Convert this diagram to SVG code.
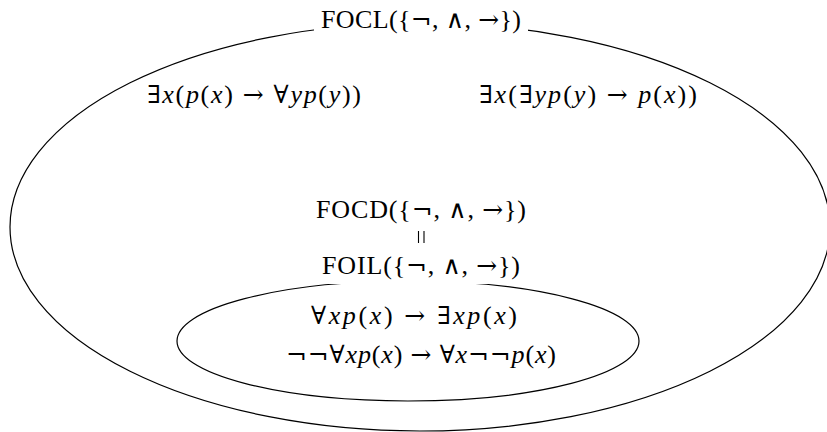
<svg xmlns="http://www.w3.org/2000/svg" width="827" height="432" viewBox="0 0 827 432">
<style>
.set{fill:none;stroke:#000;stroke-width:1.2}
.bg{fill:#fff}
text{font-family:"Liberation Serif","DejaVu Serif",serif;font-size:26px;fill:#000;text-anchor:middle}
.i{font-style:italic}
.s{font-family:"DejaVu Serif",serif;font-size:25px}
</style>
<rect width="827" height="432" fill="#fff"/>
<g id="focl">
<ellipse class="set" cx="420" cy="227" rx="410" ry="204"/>
<rect class="bg" x="314" y="8" width="214" height="30"/>
<text x="421" y="28" textLength="200">FOCL({<tspan class="s">¬</tspan>, <tspan class="s">∧</tspan>, <tspan class="s">→</tspan>})</text>
</g>
<g id="formula1">
<text x="254" y="103" textLength="214"><tspan class="s">∃</tspan><tspan class="i">x</tspan>(<tspan class="i">p</tspan>(<tspan class="i">x</tspan>) <tspan class="s">→</tspan> <tspan class="s">∀</tspan><tspan class="i">yp</tspan>(<tspan class="i">y</tspan>))</text>
</g>
<g id="formula2">
<text x="588" y="103" textLength="218"><tspan class="s">∃</tspan><tspan class="i">x</tspan>(<tspan class="s">∃</tspan><tspan class="i">yp</tspan>(<tspan class="i">y</tspan>) <tspan class="s">→</tspan> <tspan class="i">p</tspan>(<tspan class="i">x</tspan>))</text>
</g>
<g id="focd">
<text x="421" y="218" textLength="210">FOCD({<tspan class="s">¬</tspan>, <tspan class="s">∧</tspan>, <tspan class="s">→</tspan>})</text>
</g>
<g id="connectors">
<path d="M418.5 231V243M424 231V243" stroke="#000" stroke-width="1.1"/>
</g>
<g id="foil">
<ellipse class="set" cx="408" cy="341" rx="231" ry="60"/>
<rect class="bg" x="316" y="254" width="210" height="30"/>
<text x="421" y="274" textLength="198">FOIL({<tspan class="s">¬</tspan>, <tspan class="s">∧</tspan>, <tspan class="s">→</tspan>})</text>
</g>
<g id="formula3">
<text x="414" y="324" textLength="206"><tspan class="s">∀</tspan><tspan class="i">xp</tspan>(<tspan class="i">x</tspan>) <tspan class="s">→</tspan> <tspan class="s">∃</tspan><tspan class="i">xp</tspan>(<tspan class="i">x</tspan>)</text>
</g>
<g id="formula4">
<text x="421" y="363" textLength="270"><tspan class="s">¬¬∀</tspan><tspan class="i">xp</tspan>(<tspan class="i">x</tspan>) <tspan class="s">→</tspan> <tspan class="s">∀</tspan><tspan class="i">x</tspan><tspan class="s">¬¬</tspan><tspan class="i">p</tspan>(<tspan class="i">x</tspan>)</text>
</g>
</svg>
